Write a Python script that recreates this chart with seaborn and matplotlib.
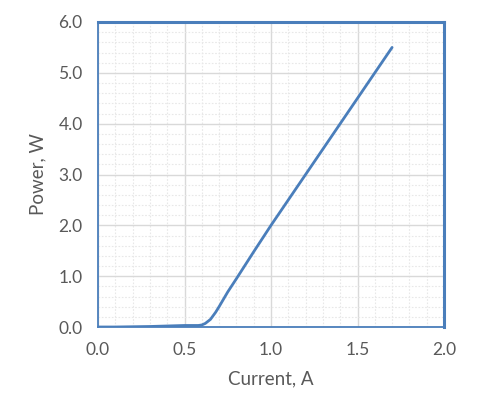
import matplotlib
matplotlib.use("Agg")
import matplotlib.pyplot as plt
import seaborn as sns
import pandas as pd
from matplotlib.ticker import MultipleLocator, FormatStrFormatter

current = [0.0, 0.1, 0.2, 0.3, 0.4, 0.5, 0.55, 0.58, 0.6, 0.62, 0.65, 0.68, 0.7, 0.75, 0.8, 0.9, 1.0, 1.2, 1.4, 1.6, 1.7]
power = [0.0, 0.0, 0.005, 0.01, 0.02, 0.03, 0.03, 0.03, 0.04, 0.07, 0.15, 0.29, 0.40, 0.69, 0.95, 1.48, 2.0, 3.0, 4.0, 5.0, 5.5]

x_label = "Current, A"
y_label = "Power, W"

sns.set_theme(style="white")
plt.rcParams['font.family'] = ['Lato', 'DejaVu Sans']

df = pd.DataFrame({"current": current, "power": power})

fig = plt.figure(figsize=(4.79, 4.2), dpi=100)
ax = fig.add_axes([98/479, 1-327/420, (444-98)/479, (327-22)/420])

blue = "#4A7EBB"
sns.lineplot(data=df, x="current", y="power", ax=ax, color=blue, linewidth=2.0, zorder=3)

ax.set_xlim(0, 2.0)
ax.set_ylim(0, 6.0)
ax.xaxis.set_major_locator(MultipleLocator(0.5))
ax.xaxis.set_minor_locator(MultipleLocator(0.1))
ax.yaxis.set_major_locator(MultipleLocator(1.0))
ax.yaxis.set_minor_locator(MultipleLocator(0.2))
ax.xaxis.set_major_formatter(FormatStrFormatter("%.1f"))
ax.yaxis.set_major_formatter(FormatStrFormatter("%.1f"))

ax.grid(which="major", color="#D9D9D9", linewidth=1.0, linestyle="-", zorder=1)
ax.grid(which="minor", color="#E8E8E8", linewidth=0.8, linestyle=(0, (1.5, 1.5)), zorder=0)
ax.set_axisbelow(True)

ax.tick_params(which="both", length=0, colors="#595959", labelsize=12.5)
ax.tick_params(axis="x", pad=11)
ax.tick_params(axis="y", pad=11)

for side in ["top", "right"]:
    ax.spines[side].set_color(blue)
    ax.spines[side].set_linewidth(2.2)
for side in ["left", "bottom"]:
    ax.spines[side].set_color(blue)
    ax.spines[side].set_linewidth(1.3)

ax.set_xlabel(x_label, fontsize=13.5, color="#595959", labelpad=9)
ax.set_ylabel(y_label, fontsize=13.5, color="#595959", labelpad=9)

fig.savefig("out.png", dpi=100)
